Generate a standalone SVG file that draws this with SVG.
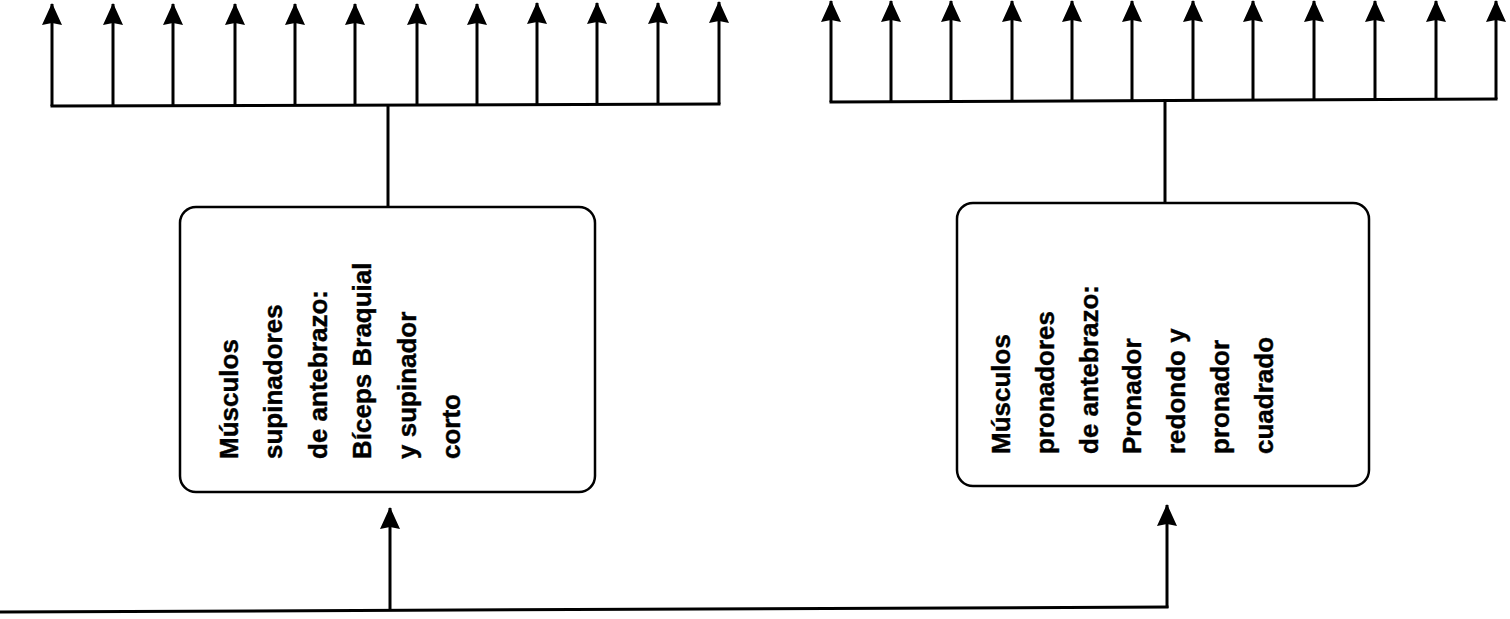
<svg xmlns="http://www.w3.org/2000/svg" width="1510" height="619" viewBox="0 0 1510 619">
<style>
.c{fill:none;stroke:#000;stroke-width:3;stroke-linecap:butt;stroke-linejoin:miter}
.a{marker-end:url(#ah)}
.box{fill:#fff;stroke:#000;stroke-width:2.5}
.t{font-family:"Liberation Sans",Arial,sans-serif;font-weight:700;font-size:26px;fill:#000;stroke:#000;stroke-width:0.4}
</style>
<defs>
<marker id="ah" markerUnits="userSpaceOnUse" markerWidth="22" markerHeight="20" viewBox="0 0 22 20" refX="21" refY="10" orient="auto" overflow="visible">
<path d="M0,0 L22,10 L0,20 L2,10 z" fill="#000"/>
</marker>
</defs>
<g id="connectors">
<path class="c" d="M50.5,106 L720.5,104"/>
<path class="c a" d="M52,106 V4"/>
<path class="c a" d="M113,106 V4"/>
<path class="c a" d="M173,106 V4"/>
<path class="c a" d="M235,106 V4"/>
<path class="c a" d="M295,105 V4"/>
<path class="c a" d="M355,105 V4"/>
<path class="c a" d="M417,105 V4"/>
<path class="c a" d="M477,105 V4"/>
<path class="c a" d="M537,105 V3"/>
<path class="c a" d="M597,104 V3"/>
<path class="c a" d="M658,104 V3"/>
<path class="c a" d="M719,104 V2"/>
<path class="c" d="M388,105 V207"/>
<path class="c" d="M829.5,102 L1497.5,99"/>
<path class="c a" d="M831,102 V1"/>
<path class="c a" d="M891,102 V1"/>
<path class="c a" d="M951,101 V1"/>
<path class="c a" d="M1012,101 V1"/>
<path class="c a" d="M1072,101 V1"/>
<path class="c a" d="M1132,101 V1"/>
<path class="c a" d="M1193,100 V1"/>
<path class="c a" d="M1253,100 V1"/>
<path class="c a" d="M1314,100 V1"/>
<path class="c a" d="M1375,100 V1"/>
<path class="c a" d="M1436,99 V1"/>
<path class="c a" d="M1496,99 V1"/>
<path class="c" d="M1165,101 V203"/>
<path class="c" d="M0,612 L1168.5,607"/>
<path class="c a" d="M390,611 V508"/>
<path class="c a" d="M1167,608 V505"/>
</g>
<g id="node-supinadores">
<rect class="box" x="180" y="207" width="415" height="285" rx="16" ry="16"/>
<g transform="rotate(-90)">
<text class="t"><tspan x="-459" y="238">Músculos</tspan><tspan x="-459" y="282">supinadores</tspan><tspan x="-459" y="327">de antebrazo:</tspan><tspan x="-459" y="371">Bíceps Braquial</tspan><tspan x="-459" y="416">y supinador</tspan><tspan x="-459" y="460">corto</tspan></text>
</g>
</g>
<g id="node-pronadores">
<rect class="box" x="957" y="203" width="412" height="283" rx="16" ry="16"/>
<g transform="rotate(-90)">
<text class="t"><tspan x="-454" y="1010">Músculos</tspan><tspan x="-454" y="1054">pronadores</tspan><tspan x="-454" y="1098">de antebrazo:</tspan><tspan x="-454" y="1141">Pronador</tspan><tspan x="-454" y="1185">redondo y</tspan><tspan x="-454" y="1229">pronador</tspan><tspan x="-454" y="1273">cuadrado</tspan></text>
</g>
</g>
</svg>
